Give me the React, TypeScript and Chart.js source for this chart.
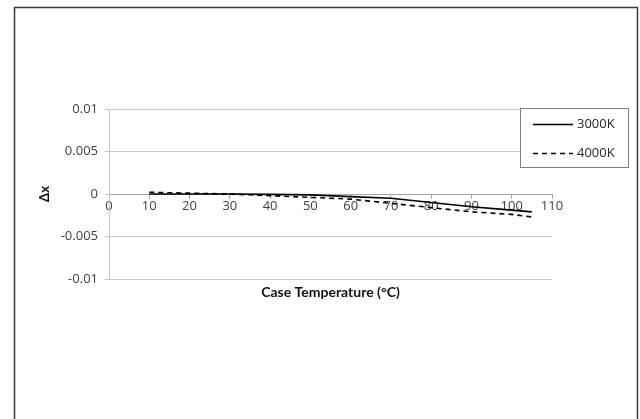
import React, { useEffect, useRef } from "react";
import { Chart, registerables } from "chart.js";

Chart.register(...registerables);

const temperatures = [10, 20, 30, 40, 50, 60, 70, 80, 90, 100, 105];
const dx3000K = [0, 0, 0, -0.00005, -0.0001, -0.0003, -0.0005, -0.001, -0.0015, -0.0019, -0.0021];
const dx4000K = [0.0002, 0.0001, 0, -0.0002, -0.0004, -0.0006, -0.0011, -0.0016, -0.0021, -0.0024, -0.0027];
const seriesLabels = ["3000K", "4000K"];
const yTickLabels = ["0.01", "0.005", "0", "-0.005", "-0.01"];
const yTickValues = [0.01, 0.005, 0, -0.005, -0.01];
const xTitle = "Case Temperature (°C)";
const yTitle = "Δx";

const TICK_FONT = "'Open Sans', Lato, sans-serif";
const TITLE_FONT = "Lato, 'Open Sans', sans-serif";

const decorPlugin = {
  id: "decor",
  beforeDraw(chart: any) {
    const ctx = chart.ctx;
    ctx.save();
    ctx.fillStyle = "#ffffff";
    ctx.fillRect(0, 0, chart.width, chart.height);
    ctx.strokeStyle = "#3a3a3a";
    ctx.lineWidth = 1.5;
    ctx.strokeRect(14.5, 7.5, 623, 430);
    ctx.restore();
  },
  afterDraw(chart: any) {
    const ctx = chart.ctx;
    const area = chart.chartArea;
    ctx.save();
    // x title
    ctx.fillStyle = "#111111";
    ctx.font = `bold 14px ${TITLE_FONT}`;
    ctx.textAlign = "center";
    ctx.textBaseline = "middle";
    ctx.fillText(xTitle, (area.left + area.right) / 2, area.bottom + 13);
    // y title
    ctx.save();
    ctx.translate(45, (area.top + area.bottom) / 2);
    ctx.rotate(-Math.PI / 2);
    ctx.font = `bold 13px ${TITLE_FONT}`;
    ctx.fillText(yTitle, 0, 0);
    ctx.restore();
    // legend
    const lx = 520.5, ly = 108.5, lw = 108, lh = 59;
    ctx.fillStyle = "#ffffff";
    ctx.fillRect(lx, ly, lw, lh);
    ctx.strokeStyle = "#7f7f7f";
    ctx.lineWidth = 1;
    ctx.strokeRect(lx, ly, lw, lh);
    const rows = [124.5, 153.5];
    chart.data.datasets.forEach((ds: any, i: number) => {
      const y = rows[i];
      ctx.beginPath();
      ctx.strokeStyle = ds.borderColor;
      ctx.lineWidth = ds.borderWidth;
      ctx.setLineDash(ds.borderDash || []);
      ctx.moveTo(533, y);
      ctx.lineTo(573, y);
      ctx.stroke();
      ctx.setLineDash([]);
      ctx.fillStyle = "#262626";
      ctx.font = `13px ${TICK_FONT}`;
      ctx.textAlign = "left";
      ctx.textBaseline = "middle";
      ctx.fillText(ds.label, 577, y);
    });
    ctx.restore();
  },
};

export default function App() {
  const ref = useRef<HTMLCanvasElement | null>(null);
  useEffect(() => {
    if (!ref.current) return;
    const chart = new Chart(ref.current, {
      type: "line",
      data: {
        datasets: [
          {
            label: seriesLabels[0],
            data: temperatures.map((t, i) => ({ x: t, y: dx3000K[i] })),
            borderColor: "#000000",
            borderWidth: 1.7,
            pointRadius: 0,
            tension: 0,
            fill: false,
          },
          {
            label: seriesLabels[1],
            data: temperatures.map((t, i) => ({ x: t, y: dx4000K[i] })),
            borderColor: "#000000",
            borderWidth: 1.6,
            borderDash: [5, 4],
            pointRadius: 0,
            tension: 0,
            fill: false,
          },
        ],
      },
      options: {
        animation: false,
        responsive: false,
        devicePixelRatio: 1,
        layout: { padding: { left: 0, top: 109, right: 88, bottom: 140 } },
        plugins: { legend: { display: false }, tooltip: { enabled: false }, title: { display: false } },
        scales: {
          x: {
            type: "linear",
            position: { y: 0 } as any,
            min: 0,
            max: 110,
            ticks: {
              stepSize: 10,
              color: "#404040",
              font: { family: TICK_FONT, size: 13 },
              padding: 0,
              maxRotation: 0,
              autoSkip: false,
            },
            grid: {
              drawOnChartArea: false,
              color: "#a6a6a6",
              tickLength: 4,
            },
            border: { display: true, color: "#a6a6a6", width: 1 },
            afterFit: (s: any) => {
              s.height = 0;
            },
          },
          y: {
            type: "linear",
            position: "left",
            min: -0.01,
            max: 0.01,
            afterBuildTicks: (s: any) => {
              s.ticks = yTickValues.map((v) => ({ value: v }));
            },
            ticks: {
              color: "#404040",
              font: { family: TICK_FONT, size: 13 },
              padding: 7,
              callback: (v: any) => {
                const idx = yTickValues.findIndex((t) => Math.abs(t - Number(v)) < 1e-9);
                return idx >= 0 ? yTickLabels[idx] : "";
              },
            },
            grid: {
              color: "#c6c6c6",
              tickLength: 4,
              lineWidth: 1,
            },
            border: { display: true, color: "#c6c6c6", width: 1 },
            afterFit: (s: any) => {
              s.width = 109;
            },
          },
        },
      },
      plugins: [decorPlugin],
    });
    return () => chart.destroy();
  }, []);
  return (
    <div style={{ position: "fixed", left: 0, top: 0, width: 640, height: 419, background: "#fff" }}>
      <canvas ref={ref} width={640} height={419} style={{ width: 640, height: 419, display: "block" }} />
    </div>
  );
}
